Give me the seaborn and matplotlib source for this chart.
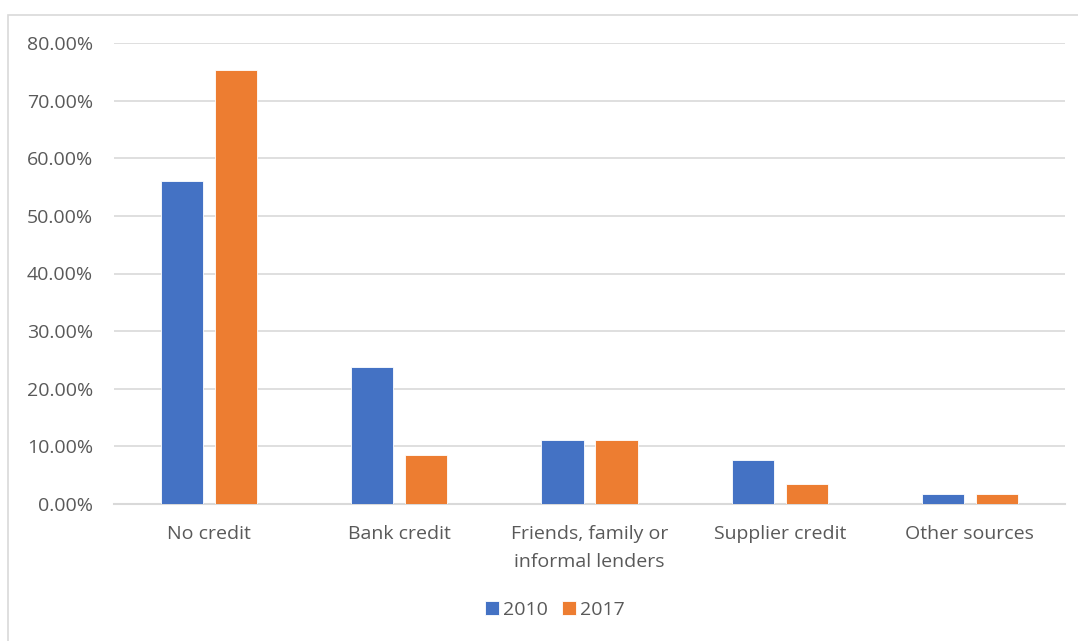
import matplotlib
matplotlib.use("Agg")
import matplotlib.pyplot as plt
import seaborn as sns
import pandas as pd
from matplotlib.ticker import FuncFormatter
from matplotlib.patches import Rectangle

categories = ["No credit", "Bank credit", "Friends, family or\ninformal lenders",
              "Supplier credit", "Other sources"]
values_2010 = [0.560, 0.238, 0.111, 0.076, 0.017]
values_2017 = [0.754, 0.085, 0.111, 0.034, 0.017]
years = ["2010", "2017"]

df = pd.DataFrame({
    "category": categories * 2,
    "year": [years[0]] * len(categories) + [years[1]] * len(categories),
    "value": values_2010 + values_2017,
})

sns.set_theme(style="white")
plt.rcParams['font.family'] = ['Open Sans', 'DejaVu Sans']

fig = plt.figure(figsize=(10.78, 6.41), dpi=100)
ax = fig.add_axes([114 / 1078, 1 - 504 / 641, 951 / 1078, 461 / 641])

sns.barplot(data=df, x="category", y="value", hue="year", order=categories,
            hue_order=years, palette=["#4472C4", "#ED7D31"], saturation=1,
            width=0.568, gap=0.22,
            edgecolor="white", linewidth=0.6, ax=ax, zorder=3)

ax.set_ylim(0, 0.8)
ax.set_xlim(-0.5, 4.5)
ax.set_yticks([i / 10 for i in range(9)])
ax.yaxis.set_major_formatter(FuncFormatter(lambda v, p: f"{v * 100:.2f}%"))
ax.grid(axis="y", color="#D9D9D9", linewidth=1.2, zorder=0)
ax.set_axisbelow(True)
for s in ["left", "right", "top"]:
    ax.spines[s].set_visible(False)
ax.spines["bottom"].set_color("#D9D9D9")
ax.spines["bottom"].set_linewidth(1.5)
ax.set_xlabel("")
ax.set_ylabel("")
ax.tick_params(axis="both", length=0, colors="#595959", labelsize=14)
ax.tick_params(axis="x", pad=15)
ax.tick_params(axis="y", pad=15)
for t in ax.get_xticklabels():
    t.set_linespacing(1.7)

handles, labels = ax.get_legend_handles_labels()
ax.legend(handles, labels, loc="center", bbox_to_anchor=(555 / 1078, 1 - 610 / 641),
          bbox_transform=fig.transFigure, ncol=2, frameon=False, fontsize=14,
          handlelength=0.75, handleheight=0.75, handletextpad=0.2, columnspacing=0.7,
          labelcolor="#595959")

fig.patches.append(Rectangle((8 / 1078, -0.01), 1.2, 1 - 15 / 641 + 0.01,
                             transform=fig.transFigure, fill=False,
                             edgecolor="#D9D9D9", linewidth=1.2))

fig.savefig("out.png", dpi=100)
